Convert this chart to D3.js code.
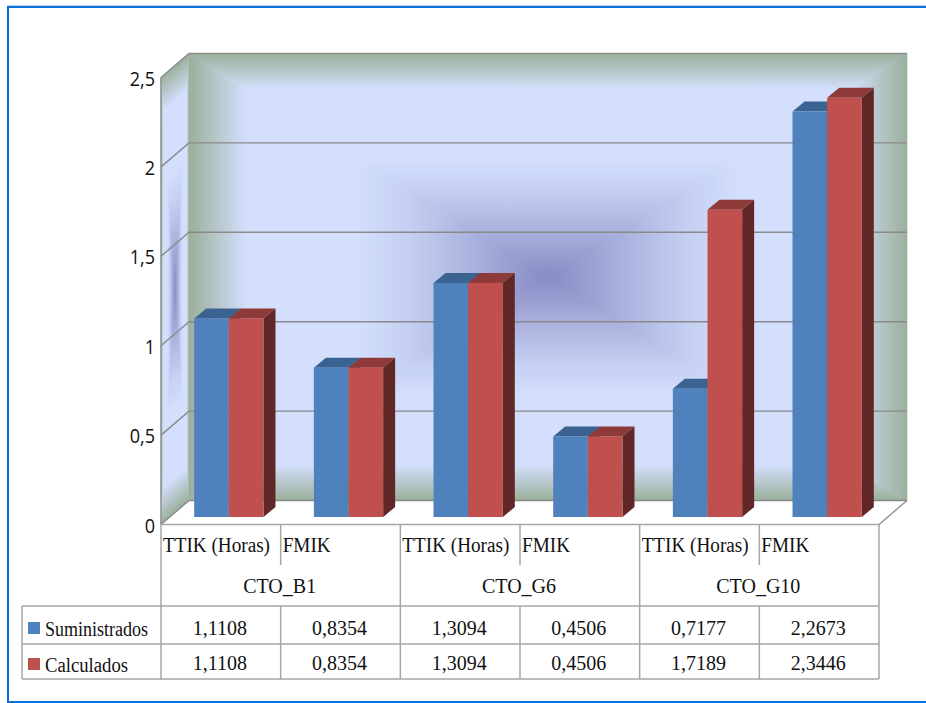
<!DOCTYPE html>
<html>
<head>
<meta charset="utf-8">
<script src="https://cdn.jsdelivr.net/npm/d3@7"></script>
<style>
  html, body { margin: 0; padding: 0; background: #fff; }
  svg { display: block; }
  .cell { font-family: "Liberation Serif", serif; fill: #111; }
  .tick-label { font-family: "Open Sans", Lato, sans-serif; fill: #111; }
</style>
</head>
<body>
<script>
// Chart content
const groups = ["CTO_B1", "CTO_G6", "CTO_G10"];
const measures = ["TTIK (Horas)", "FMIK"];
const seriesNames = ["Suministrados", "Calculados"];
const suministrados = [1.1108, 0.8354, 1.3094, 0.4506, 0.7177, 2.2673];
const calculados = [1.1108, 0.8354, 1.3094, 0.4506, 1.7189, 2.3446];
const axisTicks = [0, 0.5, 1, 1.5, 2, 2.5];
const faceColors = ["#4f81bd", "#c0504d"];
const topColors = ["#3a6391", "#8e3a38"];
const sideColors = ["#2f4d72", "#612726"];

const width = 926, height = 703;
const numberFormat = v => String(v).replace(".", ",");
const cellFormat = v => v.toFixed(4).replace(".", ",");

const svg = d3.select("body").append("svg").attr("width", width).attr("height", height);
const defs = svg.append("defs");

// Box geometry of the 3-D plot
const plot = { left: 161, right: 879, depthX: 28, depthY: 24 };
const y = d3.scaleLinear().domain([0, 2.5]).range([524.5, 77.5]);
const categories = d3.range(6);
const x = d3.scaleBand().domain(categories).range([plot.left, plot.right]).paddingInner(0.421).paddingOuter(0.2105);
const inner = d3.scaleBand().domain([0, 1]).range([0, x.bandwidth()]);
const barDepth = { dx: 12, dy: 10, fx: 8, fy: 7.5 };

// Mitred rectangular gradient: four triangles meeting at the centre of the panel
const wallStops = [
  [0, "#9bb09b"], [0.16, "#d3dffc"], [0.47, "#d3dffc"],
  [0.6, "#c6d1f3"], [0.7, "#b8c1e8"], [0.85, "#a0a7d6"], [1, "#868cc4"]
];
function pathGradientPanel(parent, id, w, h, transform) {
  const g = parent.append("g").attr("transform", transform);
  const sides = [
    { key: "t", v: [w / 2, 0, w / 2, h / 2], pts: [[0, 0], [w, 0], [w / 2, h / 2]] },
    { key: "b", v: [w / 2, h, w / 2, h / 2], pts: [[0, h], [w, h], [w / 2, h / 2]] },
    { key: "l", v: [0, h / 2, w / 2, h / 2], pts: [[0, 0], [0, h], [w / 2, h / 2]] },
    { key: "r", v: [w, h / 2, w / 2, h / 2], pts: [[w, 0], [w, h], [w / 2, h / 2]] }
  ];
  sides.forEach(s => {
    const grad = defs.append("linearGradient")
      .attr("id", id + s.key).attr("gradientUnits", "userSpaceOnUse")
      .attr("x1", s.v[0]).attr("y1", s.v[1]).attr("x2", s.v[2]).attr("y2", s.v[3]);
    wallStops.forEach(st => grad.append("stop").attr("offset", st[0]).attr("stop-color", st[1]));
    g.append("polygon")
      .attr("points", s.pts.map(p => p.join(",")).join(" "))
      .attr("fill", `url(#${id}${s.key})`)
      .attr("stroke", `url(#${id}${s.key})`)
      .attr("stroke-width", 0.6);
  });
}

const backX = plot.left + plot.depthX, backW = plot.right - plot.left;
const backH = y(0) - y(2.5);

// Back wall
pathGradientPanel(svg, "back", backW, backH,
  `translate(${backX},${y(2.5) - plot.depthY})`);
// Side wall, sheared into the depth direction
pathGradientPanel(svg, "side", plot.depthX, backH,
  `matrix(1,${-plot.depthY / plot.depthX},0,1,${plot.left},${y(2.5)})`);

// Gridlines along side and back walls, including the top and bottom edges
const gridColor = "#8a8a8a";
svg.append("g").selectAll("path").data(axisTicks).join("path")
  .attr("fill", "none").attr("stroke", gridColor).attr("stroke-width", 1.4)
  .attr("d", t => `M${plot.left},${y(t)}L${backX},${y(t) - plot.depthY}L${backX + backW},${y(t) - plot.depthY}`);
svg.append("path").attr("fill", "none").attr("stroke", "#8f8f8f").attr("stroke-width", 1.4)
  .attr("d", `M${plot.left},${y(2.5)}V${y(0)}M${backX + backW},${y(0) - plot.depthY}L${plot.right},${y(0)}`);

// Value axis labels, condensed slightly to suit the narrow numerals
svg.append("g").selectAll("text").data(axisTicks).join("text")
  .attr("class", "tick-label")
  .attr("x", 155).attr("y", t => y(t) + 8)
  .attr("text-anchor", "end").attr("font-size", 20)
  .attr("lengthAdjust", "spacingAndGlyphs")
  .text(numberFormat)
  .each(function () { this.setAttribute("textLength", this.getComputedTextLength() * 0.9); });

// Bars: each column is painted left to right so nearer faces stay on top
const bars = svg.append("g");
const baseY = y(0) - barDepth.fy;
const barValue = y.copy().range([baseY, baseY - (y(0) - y(2.5))]);
categories.forEach(c => {
  [suministrados, calculados].forEach((series, s) => {
    const bx = x(c) + barDepth.fx + inner(s);
    const bw = inner.bandwidth();
    const top = barValue(series[c]);
    const g = bars.append("g");
    g.append("polygon").attr("fill", topColors[s])
      .attr("points", [[bx, top], [bx + barDepth.dx, top - barDepth.dy],
        [bx + bw + barDepth.dx, top - barDepth.dy], [bx + bw, top]].join(" "));
    g.append("polygon").attr("fill", sideColors[s])
      .attr("points", [[bx + bw, top], [bx + bw + barDepth.dx, top - barDepth.dy],
        [bx + bw + barDepth.dx, baseY - barDepth.dy], [bx + bw, baseY]].join(" "));
    g.append("rect").attr("fill", faceColors[s])
      .attr("x", bx).attr("y", top).attr("width", bw).attr("height", baseY - top);
  });
});

// Data table below the plot
const tableRows = { head: y(0), sub: 565, group: 606, row1: 644, row2: 679 };
const tableLeft = 22;
const tableColor = "#a6a6a6";
const step = x.step();
const colX = i => plot.left + i * step;
const table = svg.append("g").attr("stroke", tableColor).attr("stroke-width", 1.5).attr("fill", "none");
const tableLines = [
  [plot.left, tableRows.head, plot.right, tableRows.head],
  [tableLeft, tableRows.group, plot.right, tableRows.group],
  [tableLeft, tableRows.row1, plot.right, tableRows.row1],
  [tableLeft, tableRows.row2, plot.right, tableRows.row2],
  [tableLeft, tableRows.group, tableLeft, tableRows.row2]
];
d3.range(7).forEach(i => {
  const stopHead = i % 2 === 1 ? tableRows.sub : tableRows.row2;
  tableLines.push([colX(i), tableRows.head, colX(i), stopHead]);
  if (i % 2 === 1) tableLines.push([colX(i), tableRows.group, colX(i), tableRows.row2]);
});
table.selectAll("line").data(tableLines).join("line")
  .attr("x1", d => d[0]).attr("y1", d => d[1]).attr("x2", d => d[2]).attr("y2", d => d[3]);

const cellText = svg.append("g").attr("class", "cell").attr("font-size", 20);
categories.forEach(c => {
  cellText.append("text").attr("x", colX(c) + 2).attr("y", 552)
    .attr("textLength", c % 2 === 0 ? 107 : 48)
    .attr("lengthAdjust", "spacingAndGlyphs")
    .text(measures[c % 2]);
  cellText.append("text").attr("x", colX(c) + step / 2 - 1).attr("y", 635).attr("text-anchor", "middle").text(cellFormat(suministrados[c]));
  cellText.append("text").attr("x", colX(c) + step / 2 - 1).attr("y", 670).attr("text-anchor", "middle").text(cellFormat(calculados[c]));
});
groups.forEach((g, i) => {
  cellText.append("text").attr("x", colX(i * 2) + step - 1).attr("y", 593).attr("text-anchor", "middle").text(g);
});
seriesNames.forEach((n, i) => {
  svg.append("rect").attr("x", 28).attr("y", [622, 658][i]).attr("width", 12).attr("height", 12).attr("fill", faceColors[i]);
  cellText.append("text").attr("x", 45).attr("y", [636, 672][i])
    .attr("textLength", [103, 83][i]).attr("lengthAdjust", "spacingAndGlyphs").text(n);
});

// Outer frame of the figure
svg.append("path").attr("fill", "none").attr("stroke", "#b5d3f5").attr("stroke-width", 1)
  .attr("d", `M${width},5.5H7.5V9`);
svg.append("path").attr("fill", "none").attr("stroke", "#0a6fd6").attr("stroke-width", 2)
  .attr("d", `M${width},7H8V702H${width}`);
</script>
</body>
</html>
